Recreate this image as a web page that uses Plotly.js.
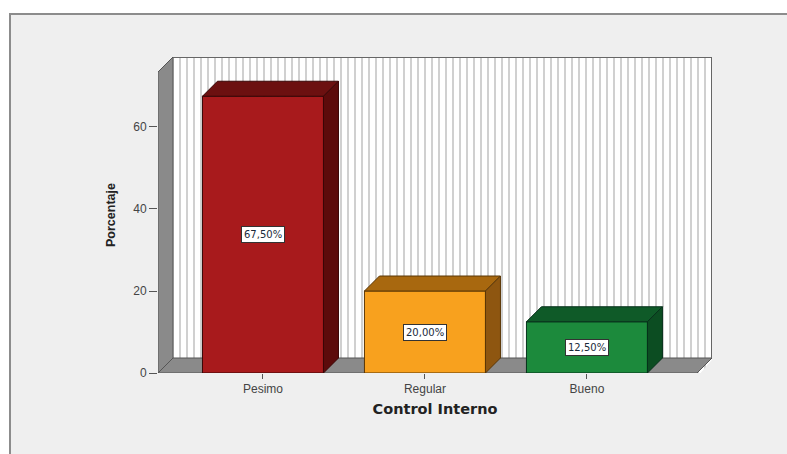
<!DOCTYPE html>
<html>
<head>
<meta charset="utf-8">
<script src="https://cdn.plot.ly/plotly-3.0.1.min.js"></script>
<style>
  html, body { margin:0; padding:0; background:#ffffff; }
  #frame { position:absolute; left:9px; top:13px; width:778px; height:441px; background:#efefef;
           border-top:2px solid #8c8c8c; border-left:2px solid #8c8c8c; box-sizing:border-box; }
  #chart { position:absolute; left:0; top:0; width:787px; height:454px; }
</style>
</head>
<body>
<div id="frame"></div>
<div id="chart"></div>
<script>
// ---- data ----
const categories = ["Pesimo", "Regular", "Bueno"];
const percentages = [67.5, 20.0, 12.5];
const yTickValues = [0, 20, 40, 60];

// ---- styles ----
const frontColors = ["#a81a1c", "#f8a11e", "#1c8a3c"];
const topColors   = ["#6c1010", "#a8680f", "#0f5a28"];
const sideColors  = ["#5c0b0b", "#8e5610", "#0c4d22"];
const edgeColors  = ["#3a0606", "#5a3605", "#06301a"];

const xMin = -0.648, xMax = 2.772, yMax = 77.07;
const ox = 15 / 162;     // depth offset in x units
const oy = 15 / 4.1;     // depth offset in y units
const barW = 0.747;
const floorRight = xMax - ox;
const wallGray = "#8a8a8a";
const bgGray = "#efefef";

const xs = categories.map((c, i) => i);

const traces = [];
traces.push({
  type: "bar", x: xs, y: percentages, width: barW,
  marker: { color: frontColors, line: { color: edgeColors, width: 1 } },
  hoverinfo: "skip", showlegend: false
});
xs.forEach((x, i) => {
  const v = percentages[i];
  const l = x - barW / 2, r = x + barW / 2;
  traces.push({
    type: "scatter", mode: "lines", fill: "toself", fillcolor: topColors[i],
    x: [l, r, r + ox, l + ox, l], y: [v, v, v + oy, v + oy, v],
    line: { color: edgeColors[i], width: 1 }, hoverinfo: "skip", showlegend: false
  });
  traces.push({
    type: "scatter", mode: "lines", fill: "toself", fillcolor: sideColors[i],
    x: [r, r + ox, r + ox, r, r], y: [0, oy, v + oy, v, 0],
    line: { color: edgeColors[i], width: 1 }, hoverinfo: "skip", showlegend: false
  });
});

function poly(pts) {
  return "M" + pts.map(p => p[0] + "," + p[1]).join(" L") + " Z";
}

const shapes = [
  { type: "path", layer: "between", xref: "x", yref: "y", fillcolor: bgGray, line: { width: 0 },
    path: poly([[xMin - 0.01, yMax + 1], [xMin + ox + 0.004, yMax + 1], [xMin + ox + 0.004, yMax], [xMin, yMax - oy]]) },
  { type: "path", layer: "between", xref: "x", yref: "y", fillcolor: bgGray, line: { width: 0 },
    path: poly([[floorRight, -1], [xMax + 0.01, -1], [xMax + 0.01, oy]]) },
  // floor
  { type: "path", layer: "between", xref: "x", yref: "y", fillcolor: wallGray, line: { color: "#555", width: 1 },
    path: poly([[xMin, 0], [floorRight, 0], [xMax, oy], [xMin + ox, oy]]) },
  // left wall
  { type: "path", layer: "between", xref: "x", yref: "y", fillcolor: wallGray, line: { color: "#555", width: 1 },
    path: poly([[xMin, 0], [xMin + ox, oy], [xMin + ox, yMax], [xMin, yMax - oy]]) },
  // back wall edges
  { type: "path", layer: "between", xref: "x", yref: "y", line: { color: "#666", width: 2 },
    path: "M" + (xMin + ox) + "," + yMax + " L" + xMax + "," + yMax + " L" + xMax + "," + oy }
];

const annotations = xs.map((x, i) => ({
  x: x, y: percentages[i] / 2, xref: "x", yref: "y", showarrow: false,
  text: percentages[i].toFixed(2).replace(".", ",") + "%",
  bgcolor: "#ffffff", bordercolor: "#333333", borderwidth: 1, borderpad: 2,
  font: { family: "DejaVu Sans", size: 10, color: "#1a2a3a" }
}));

const layout = {
  width: 787, height: 454,
  margin: { l: 158, r: 75, t: 57, b: 81 },
  paper_bgcolor: "rgba(0,0,0,0)",
  plot_bgcolor: "#ffffff",
  showlegend: false,
  xaxis: {
    range: [xMin, xMax], tickvals: xs, ticktext: categories,
    showgrid: false, zeroline: false, showline: false,
    ticks: "outside", ticklen: 5, tickcolor: "#555",
    tickfont: { family: "Liberation Sans, Arial", size: 12, color: "#444" },
    minor: { dtick: 7 / 162, tick0: xMin + ox, showgrid: true, gridcolor: "#d0d0d0", gridwidth: 2, ticks: "" },
    title: { text: "Control Interno", standoff: 8,
             font: { family: "DejaVu Sans", size: 14.5, color: "#222", weight: "bold" } }
  },
  yaxis: {
    range: [0, yMax], tickvals: yTickValues,
    showgrid: false, zeroline: false, showline: false,
    ticks: "outside", ticklen: 8, tickcolor: "#555",
    tickfont: { family: "Liberation Sans, Arial", size: 12, color: "#444" },
    title: { text: "Porcentaje", standoff: 14,
             font: { family: "Liberation Sans, Arial", size: 12.5, color: "#222", weight: "bold" } }
  },
  shapes: shapes,
  annotations: annotations
};

Plotly.newPlot("chart", traces, layout, { displayModeBar: false, staticPlot: true });
</script>
</body>
</html>
